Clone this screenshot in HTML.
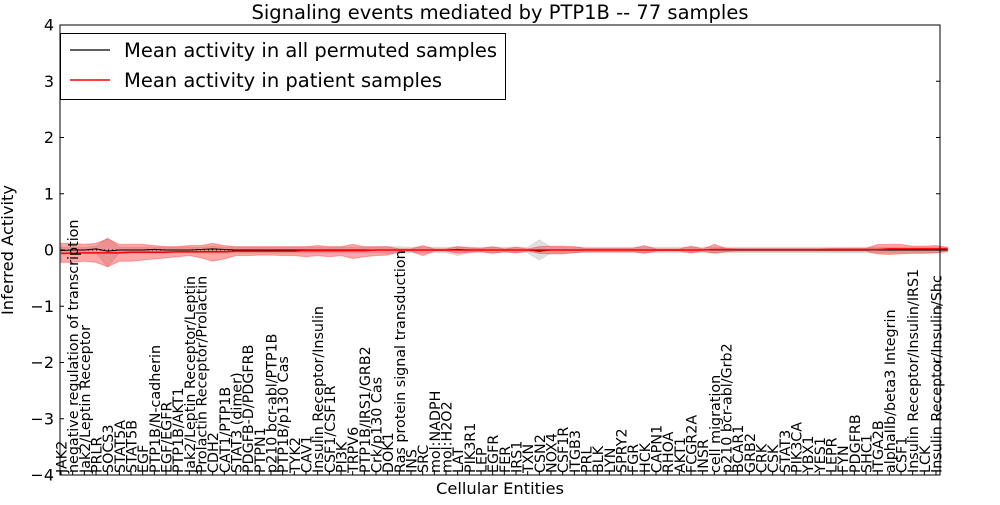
<!DOCTYPE html>
<html><head><meta charset="utf-8"><style>
body{margin:0;background:#fff}
svg text{font-family:"DejaVu Sans","Liberation Sans",sans-serif}
</style></head><body>
<svg id="chart" width="1000" height="500" xmlns="http://www.w3.org/2000/svg"></svg>
<script>
const categories=["JAK2","negative regulation of transcription","Jak2/Leptin Receptor","PRLR","SOCS3","STAT5A","STAT5B","EGF","PTP1B/N-cadherin","EGF/EGFR","PTP1B/AKT1","Jak2/Leptin Receptor/Leptin","Prolactin Receptor/Prolactin","CDH2","CAT1/PTP1B","STAT3 (dimer)","PDGFB-D/PDGFRB","PTPN1","p210 bcr-abl/PTP1B","PTP1B/p130 Cas","TYK2","CAV1","Insulin Receptor/Insulin","CSF1/CSF1R","PI3K","TRPV6","PTP1B/IRS1/GRB2","Crk/p130 Cas","DOK1","Ras protein signal transduction","INS","SRC","mol:NADPH","mol:H2O2","LAT","PIK3R1","LEP","EGFR","FER","IRS1","TXN","CSN2","NOX4","CSF1R","ITGB3","PRL","BLK","LYN","SPRY2","FGR","HCK","CAPN1","RHOA","AKT1","FCGR2A","INSR","cell migration","p210 bcr-abl/Grb2","BCAR1","GRB2","CRK","CSK","STAT3","PIK3CA","YBX1","YES1","LEPR","FYN","PDGFRB","SHC1","ITGA2B","alphaIIb/beta3 Integrin","CSF1","Insulin Receptor/Insulin/IRS1","LCK","Insulin Receptor/Insulin/Shc"];
const redMean=[-0.06,-0.06,-0.05,-0.05,-0.05,-0.05,-0.04,-0.04,-0.04,-0.04,-0.03,-0.03,-0.03,-0.03,-0.03,-0.02,-0.02,-0.02,-0.02,-0.02,-0.02,-0.01,-0.01,-0.01,-0.01,-0.01,-0.01,0,0,0,0,0,0,0,0,0,0,0,0,0,0,0,0,0,0,0,0,0,0,0,0,0,0,0,0,0,0.01,0.01,0.01,0.01,0.01,0.01,0.01,0.01,0.01,0.01,0.01,0.01,0.01,0.01,0.01,0.02,0.02,0.02,0.02,0.02,0.02];
const redHi=[0.12,0.12,0.1,0.12,0.2,0.1,0.1,0.1,0.08,0.06,0.06,0.08,0.08,0.12,0.08,0.06,0.06,0.06,0.06,0.06,0.06,0.06,0.08,0.06,0.06,0.1,0.06,0.06,0.06,0.02,0.02,0.08,0.02,0.02,0.06,0.04,0.03,0.06,0.02,0.05,0.02,0.06,0.07,0.07,0.06,0.03,0.03,0.03,0.03,0.03,0.08,0.02,0.02,0.02,0.07,0.02,0.1,0.03,0.02,0.02,0.02,0.02,0.02,0.02,0.02,0.02,0.03,0.03,0.03,0.03,0.1,0.1,0.1,0.07,0.07,0.08,0.05];
const redLo=[-0.22,-0.22,-0.2,-0.22,-0.3,-0.2,-0.2,-0.18,-0.16,-0.14,-0.12,-0.1,-0.14,-0.2,-0.16,-0.1,-0.1,-0.09,-0.09,-0.1,-0.1,-0.12,-0.1,-0.12,-0.1,-0.15,-0.12,-0.1,-0.09,-0.03,-0.02,-0.1,-0.02,-0.02,-0.06,-0.04,-0.03,-0.06,-0.03,-0.05,-0.02,-0.06,-0.07,-0.07,-0.05,-0.03,-0.03,-0.03,-0.03,-0.03,-0.06,-0.02,-0.02,-0.02,-0.05,-0.02,-0.06,-0.03,-0.02,-0.02,-0.02,-0.02,-0.02,-0.02,-0.02,-0.02,-0.02,-0.02,-0.02,-0.02,-0.07,-0.08,-0.07,-0.06,-0.06,-0.05,-0.02];
const grayMean=[-0.01,0,0,0.02,-0.02,0,0,0,0.01,0,0,0,0.01,0.02,0.01,0,0,0,0,0,0,0,0,0,0,0,0,0,0,0,0,0,0,0,0.01,0,0,0,0,0,0,-0.02,0,0,0,0,0,0,0,0,0,0,0,0,0,0,0,0,0,0,0,0,0,0,0,0,0,0,0,0,0,0,0,0,0,0,0];
const grayHi=[0.05,0.05,0.05,0.07,0.22,0.05,0.05,0.05,0.05,0.05,0.05,0.05,0.05,0.07,0.05,0.05,0.05,0.05,0.05,0.05,0.05,0.05,0.05,0.05,0.05,0.05,0.05,0.05,0.06,0.06,0.05,0.05,0.05,0.05,0.06,0.05,0.05,0.05,0.05,0.05,0.05,0.18,0.05,0.05,0.05,0.05,0.05,0.05,0.05,0.05,0.05,0.05,0.05,0.05,0.05,0.05,0.05,0.05,0.05,0.05,0.05,0.05,0.05,0.05,0.05,0.05,0.05,0.05,0.05,0.05,0.05,0.05,0.05,0.05,0.05,0.05,0.05];
const grayLo=[-0.05,-0.05,-0.05,-0.05,-0.3,-0.05,-0.05,-0.05,-0.05,-0.05,-0.05,-0.05,-0.05,-0.05,-0.05,-0.05,-0.05,-0.05,-0.05,-0.05,-0.05,-0.05,-0.05,-0.05,-0.05,-0.05,-0.05,-0.05,-0.06,-0.06,-0.05,-0.05,-0.05,-0.05,-0.1,-0.05,-0.05,-0.05,-0.05,-0.05,-0.05,-0.18,-0.05,-0.05,-0.05,-0.05,-0.05,-0.05,-0.05,-0.05,-0.05,-0.05,-0.05,-0.05,-0.05,-0.05,-0.05,-0.05,-0.05,-0.05,-0.05,-0.05,-0.05,-0.05,-0.05,-0.05,-0.05,-0.05,-0.05,-0.05,-0.05,-0.05,-0.05,-0.05,-0.05,-0.05,-0.05];
const yTicks=[-4,-3,-2,-1,0,1,2,3,4];

const NS="http://www.w3.org/2000/svg";
const svg=document.getElementById('chart');
const L=60,R=940,T=25,B=475;
const xs=i=>61+i*(936-61)/(categories.length-1);
const ys=v=>T+(4-v)*(B-T)/8;
function mk(tag,attrs,parent){const e=document.createElementNS(NS,tag);for(const k in attrs)e.setAttribute(k,attrs[k]);(parent||svg).appendChild(e);return e;}
function band(hi,lo,fill,op,name){
  let d='M'+hi.map((v,i)=>xs(i)+','+ys(v)).join('L');
  for(let i=lo.length-1;i>=0;i--)d+='L'+xs(i)+','+ys(lo[i]);
  const p=mk('path',{d:d+'Z',fill:fill,'fill-opacity':op,stroke:fill,'stroke-opacity':op*0.8,'stroke-width':1});
  
  
}
function line(vals,color,w,name,dash){
  const p=mk('path',{d:'M'+vals.map((v,i)=>xs(i)+','+ys(v)).join('L'),fill:'none',stroke:color,'stroke-width':w});
  if(dash)p.setAttribute('stroke-dasharray',dash);
  
  
}
band(grayHi,grayLo,'#bbbbbb',0.45,'permuted-band');
band(redHi,redLo,'#ff0000',0.35,'patient-band');
const zl=mk('line',{x1:L,x2:R,y1:ys(0),y2:ys(0),stroke:'#000','stroke-width':1,'stroke-dasharray':'1,3'});


line(grayMean,'#000',1,'permuted-mean-line');
line(redMean,'#ff0000',1.5,'patient-mean-line');
const fr=mk('rect',{x:L,y:T,width:R-L,height:B-T,fill:'none',stroke:'#000','stroke-width':1});


yTicks.forEach(t=>{
  const y=ys(t);
  mk('line',{x1:L,x2:L+4,y1:y,y2:y,stroke:'#000'});
  mk('line',{x1:R-4,x2:R,y1:y,y2:y,stroke:'#000'});
  const tx=mk('text',{x:L-6,y:y+5.5,'text-anchor':'end','font-size':16});
  tx.textContent=(t<0?'\u2212'+(-t):t);
  
  
});
categories.forEach((c,i)=>{
  const x=xs(i);
  mk('line',{x1:x,x2:x,y1:B,y2:B-4,stroke:'#000'});
  const tx=mk('text',{x:0,y:0,transform:`translate(${x+5.5},${B-2}) rotate(-90)`,'font-size':14.3});
  tx.textContent=c;
  
  
});
const title=mk('text',{x:500,y:19,'text-anchor':'middle','font-size':19.5});
title.textContent='Signaling events mediated by PTP1B -- 77 samples';


const xt=mk('text',{x:500,y:494,'text-anchor':'middle','font-size':16.3});
xt.textContent='Cellular Entities';


const yt=mk('text',{x:0,y:0,transform:'translate(13,250) rotate(-90)','text-anchor':'middle','font-size':16.3});
yt.textContent='Inferred Activity';


const lg=mk('g',{});


mk('rect',{x:60.5,y:33.5,width:445,height:66,fill:'#fff',stroke:'#000'},lg);
mk('line',{x1:70,x2:110,y1:50,y2:50,stroke:'#000','stroke-width':1.2},lg);
mk('line',{x1:70,x2:110,y1:80,y2:80,stroke:'#f00','stroke-width':1.5},lg);
const l1=mk('text',{x:124,y:57,'font-size':19.5},lg);l1.textContent='Mean activity in all permuted samples';


const l2=mk('text',{x:124,y:87,'font-size':19.5},lg);l2.textContent='Mean activity in patient samples';


</script>
</body></html>
